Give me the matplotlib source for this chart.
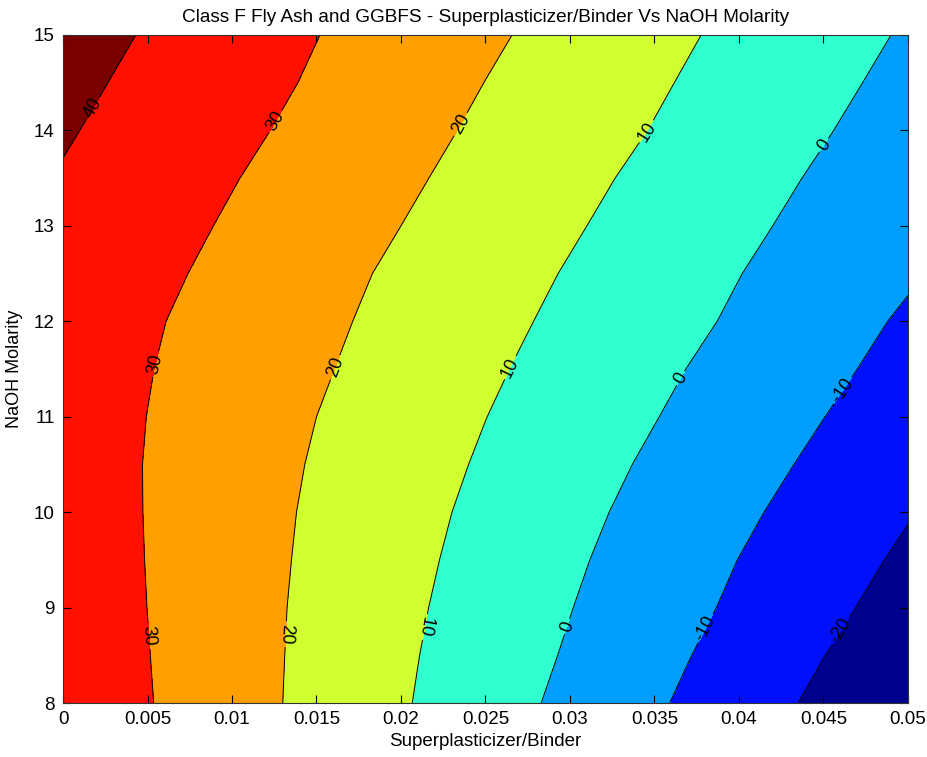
import numpy as np
import matplotlib
matplotlib.use("Agg")
import matplotlib.pyplot as plt
from matplotlib.colors import ListedColormap, BoundaryNorm

# Grid of response values
sp_binder = [0.0, 0.005, 0.010, 0.015, 0.020, 0.025, 0.030, 0.035, 0.040, 0.045, 0.050]
naoh = [8.0, 8.5, 9.0, 9.5, 10.0, 10.5, 11.0, 11.5, 12.0, 12.5, 13.0, 13.5, 14.0, 14.5, 15.0]
z_rows = [
    [37.04, 30.48, 23.93, 17.39, 10.87, 4.33, -2.24, -8.82, -15.39, -21.97, -28.55],   # 8.0
    [36.50, 30.21, 23.92, 17.64, 11.35, 5.22, -0.89, -7.22, -13.54, -19.87, -26.20],   # 8.5
    [36.00, 29.96, 23.93, 17.90, 11.92, 6.05, 0.23, -5.65, -11.59, -17.68, -23.78],    # 9.0
    [35.56, 29.80, 24.04, 18.30, 12.57, 6.93, 1.34, -4.37, -10.11, -15.86, -21.61],    # 9.5
    [35.21, 29.70, 24.19, 18.70, 13.26, 7.86, 2.51, -2.90, -8.36, -13.89, -19.44],     # 10.0
    [34.90, 29.69, 24.48, 19.28, 14.12, 8.97, 3.81, -1.35, -6.56, -11.85, -17.28],     # 10.5
    [34.90, 29.93, 24.97, 20.00, 15.05, 10.10, 5.20, 0.29, -4.80, -9.90, -15.00],      # 11.0
    [35.05, 30.37, 25.70, 21.03, 16.21, 11.36, 6.57, 1.81, -3.07, -8.02, -12.97],      # 11.5
    [35.50, 30.99, 26.49, 21.98, 17.36, 12.64, 8.00, 3.45, -1.20, -6.20, -11.20],      # 12.0
    [36.79, 32.20, 27.61, 23.03, 18.45, 13.91, 9.36, 4.77, 0.18, -4.40, -8.99],        # 12.5
    [38.02, 33.51, 29.01, 24.50, 20.00, 15.45, 10.91, 6.36, 1.82, -2.73, -7.27],       # 13.0
    [39.35, 34.88, 30.42, 25.96, 21.49, 16.97, 12.42, 7.89, 3.37, -1.15, -5.66],       # 13.5
    [40.88, 36.45, 32.03, 27.55, 23.00, 18.50, 14.07, 9.64, 5.09, 0.55, -4.00],        # 14.0
    [42.36, 37.92, 33.48, 29.02, 24.46, 19.91, 15.48, 11.05, 6.58, 2.08, -2.41],       # 14.5
    [43.94, 39.36, 34.77, 30.18, 25.79, 21.40, 16.95, 12.47, 8.00, 3.56, -0.89],       # 15.0
]
contour_levels = [-20, -10, 0, 10, 20, 30, 40]
band_colors = ["#00008f", "#0010ff", "#009fff", "#30ffcf",
               "#cfff30", "#ff9f00", "#ff1000", "#7a0000"]
x_ticks = [0, 0.005, 0.01, 0.015, 0.02, 0.025, 0.03, 0.035, 0.04, 0.045, 0.05]
x_tick_labels = ["0", "0.005", "0.01", "0.015", "0.02", "0.025", "0.03",
                 "0.035", "0.04", "0.045", "0.05"]
y_ticks = [8, 9, 10, 11, 12, 13, 14, 15]

# where the contour labels sit (data coords)
label_points = [(0.00197, 14.21), (0.01262, 14.09), (0.02357, 14.06), (0.03452, 13.99),
                (0.04517, 13.83), (0.00572, 11.54), (0.01608, 11.52), (0.02653, 11.51),
                (0.03659, 11.40), (0.04635, 11.25), (0.00473, 8.70), (0.01341, 8.72),
                (0.02160, 8.79), (0.02988, 8.80), (0.03817, 8.77), (0.04625, 8.73)]
# labels drawn upside down in the original (following the line direction)
flipped_labels = [("20", 9.5), ("10", 9.5)]

plt.rcParams['font.family'] = ['Liberation Sans', 'DejaVu Sans']

X, Y = np.meshgrid(sp_binder, naoh)
Z = np.array(z_rows)

fig = plt.figure(figsize=(9.28, 7.57), dpi=100)
ax = fig.add_axes([0.0679, 0.0713, 0.9105, 0.8825])

bounds = [-1e3] + contour_levels + [1e3]
cmap = ListedColormap(band_colors)
norm = BoundaryNorm(bounds, cmap.N)
ax.contourf(X, Y, Z, levels=bounds, cmap=cmap, norm=norm, antialiased=False)
cs = ax.contour(X, Y, Z, levels=contour_levels, colors="black", linewidths=0.7,
                negative_linestyles="solid")
labels = ax.clabel(cs, fmt=lambda v: "%d" % int(round(v)), fontsize=13, inline=True,
                   inline_spacing=3, manual=label_points)
for t in labels:
    t.set_text(t.get_text().replace("\u2212", "-"))
    tx, ty = t.get_position()
    for txt, ymax in flipped_labels:
        if t.get_text() == txt and ty < ymax:
            t.set_rotation((t.get_rotation() + 180) % 360)

ax.set_xlim(0, 0.05)
ax.set_ylim(8, 15)
ax.set_xticks(x_ticks)
ax.set_xticklabels(x_tick_labels)
ax.set_yticks(y_ticks)
ax.tick_params(direction="in", length=6, top=True, right=True, labelsize=13.5, pad=6)
for s in ax.spines.values():
    s.set_linewidth(0.8)
    s.set_color("#333333")

ax.set_title("Class F Fly Ash and GGBFS - Superplasticizer/Binder Vs NaOH Molarity",
             fontsize=13.7, pad=9)
ax.set_xlabel("Superplasticizer/Binder", fontsize=13.5, labelpad=3)
ax.set_ylabel("NaOH Molarity", fontsize=13, labelpad=8)

fig.savefig("out.png", dpi=100)
